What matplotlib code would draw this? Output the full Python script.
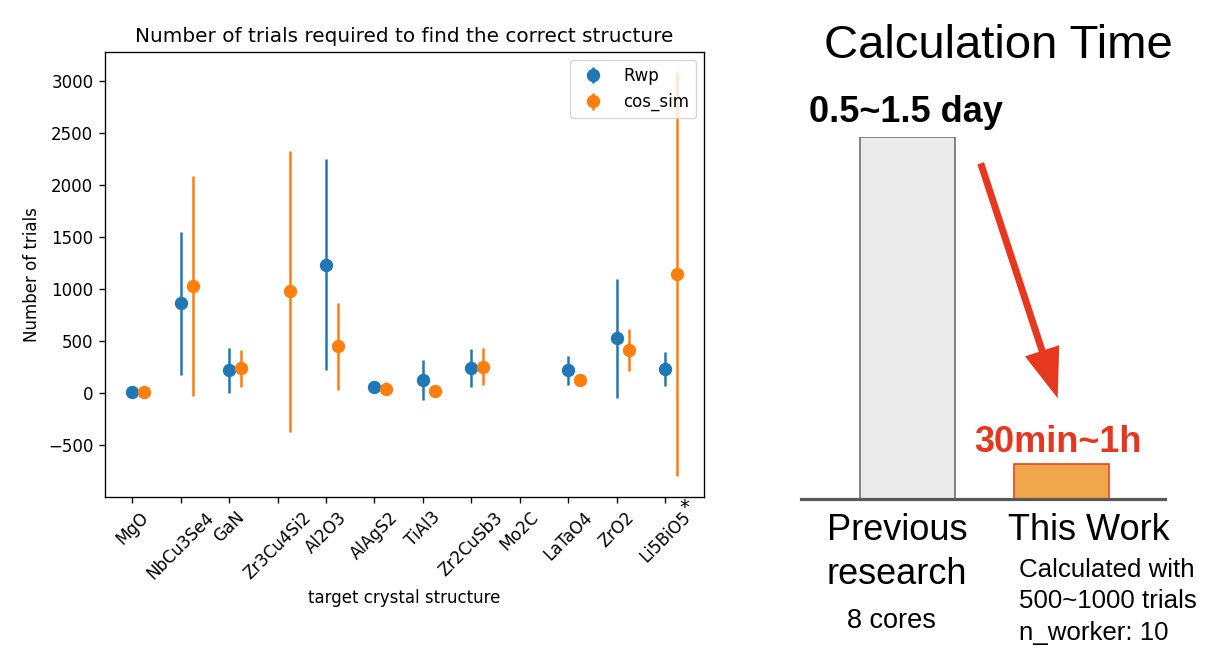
import numpy as np
import matplotlib
matplotlib.use("Agg")
import matplotlib.pyplot as plt
from matplotlib.patches import FancyArrow

# ---------------- data ----------------
structures = ["MgO", "NbCu3Se4", "GaN", "Zr3Cu4Si2", "Al2O3", "AlAgS2", "TiAl3",
              "Zr2CuSb3", "Mo2C", "LaTaO4", "ZrO2", "Li5BiO5"]
rwp_mean = [10, 866, 220, np.nan, 1238, 57, 128, 243, np.nan, 220, 531, 233]
rwp_err = [8, 686, 215, np.nan, 1012, 30, 195, 183, np.nan, 138, 571, 165]
cos_mean = [10, 1030, 243, 982, 451, 45, 22, 256, np.nan, 128, 419, 1145]
cos_err = [8, 1058, 178, 1348, 416, 65, 25, 180, np.nan, 57, 200, 1943]
series_labels = ["Rwp", "cos_sim"]

time_categories = ["Previous research", "This Work"]
time_bar_heights = [10.34, 1.0]      # schematic bar heights
time_labels = ["0.5~1.5 day", "30min~1h"]

W, H = 1232, 662
fig = plt.figure(figsize=(W / 100, H / 100), dpi=100)

# ---------------- left: errorbar chart ----------------
ax = fig.add_axes([105 / W, 1 - 496.7 / H, 599.3 / W, 445 / H])
x = np.arange(len(structures))
ax.errorbar(x, rwp_mean, yerr=rwp_err, fmt="o", ms=8.6, elinewidth=1.8,
            color="#1f77b4", label=series_labels[0])
ax.errorbar(x + 0.25, cos_mean, yerr=cos_err, fmt="o", ms=8.6, elinewidth=1.8,
            color="#ff7f0e", label=series_labels[1])
ax.set_xticks(x)
ax.set_xticklabels(structures, rotation=45, fontsize=12)
ax.tick_params(axis="y", labelsize=12)
ax.tick_params(length=4.2, width=0.96, pad=4.2)
for sp in ax.spines.values():
    sp.set_linewidth(0.96)
ax.set_title("Number of trials required to find the correct structure", fontsize=14.4, pad=7.2)
ax.set_xlabel("target crystal structure", fontsize=12, labelpad=4.8)
ax.set_ylabel("Number of trials", fontsize=12, labelpad=4.8)
ax.legend(loc="upper right", fontsize=12)

# ---------------- right: schematic bars ----------------
bx0, bx1, by0, by1 = 801, 1165, 499, 137
axb = fig.add_axes([bx0 / W, 1 - by0 / H, (bx1 - bx0) / W, (by0 - by1) / H])
bpos = np.arange(len(time_categories))
axb.bar(bpos, time_bar_heights, width=0.617, color=["#ebebeb", "#f0a64a"],
        edgecolor=["#707070", "#e8442c"], linewidth=1.2, zorder=2)
axb.set_xlim(-0.6916, 1.672)
axb.set_ylim(0, time_bar_heights[0])
for s in ["top", "right", "left"]:
    axb.spines[s].set_visible(False)
axb.spines["bottom"].set_linewidth(2.3)
axb.spines["bottom"].set_color("#595959")
axb.spines["bottom"].set_zorder(3)
axb.set_xticks([])
axb.set_yticks([])
axb.patch.set_visible(False)

# overlay in pixel coordinates for annotation text / arrow
ov = fig.add_axes([0, 0, 1, 1])
ov.set_xlim(0, W)
ov.set_ylim(H, 0)
ov.axis("off")
sans = "Liberation Sans"
ov.text(998, 58, "Calculation Time", fontsize=34, family=sans, ha="center", va="baseline")
ov.text(905.5, 122, time_labels[0], fontsize=26, family=sans, weight="bold",
        ha="center", va="baseline")
ov.text(1058, 452, time_labels[1], fontsize=26, family=sans, weight="bold",
        color="#e5371f", ha="center", va="baseline")
ov.text(897, 540, "Previous", fontsize=26, family=sans, ha="center", va="baseline")
ov.text(897, 584, "research", fontsize=26, family=sans, ha="center", va="baseline")
ov.text(1089, 540, "This Work", fontsize=26, family=sans, ha="center", va="baseline")
ov.text(891, 628, "8 cores", fontsize=19.5, family=sans, ha="center", va="baseline")
for txt, yb in [("Calculated with", 577), ("500~1000 trials", 608), ("n_worker: 10", 640)]:
    ov.text(1019, yb, txt, fontsize=18.6, family=sans, ha="left", va="baseline")
ov.add_patch(FancyArrow(980.7, 163.3, 1057.7 - 980.7, 398.3 - 163.3, width=7,
                        head_width=36, head_length=50, length_includes_head=True,
                        color="#e5381f", linewidth=0))
ov.text(684, 508, "*", fontsize=14, ha="center", va="center")

fig.savefig("out.png", dpi=100)
